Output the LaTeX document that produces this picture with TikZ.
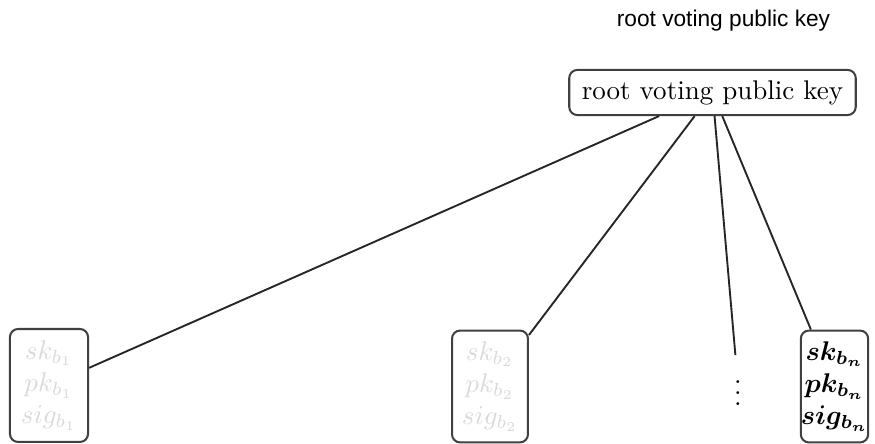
\documentclass[tikz,border=0pt]{standalone}
\usepackage{amsmath,amssymb}
\usepackage{bm}
\usepackage{fontspec}
\newfontfamily\labelfont{Liberation Sans}
\usepackage{tikz}
\usetikzlibrary{calc, positioning}
\tikzset{
	keybox/.style={draw=black!75, line width=0.75pt, rounded corners=3pt, inner sep=0pt, align=center},
	faded/.style={text=black!15},
	link/.style={draw=black!85, line width=0.7pt}
}

\begin{document}
\begin{tikzpicture}[x=0.37pt,y=-0.37pt]
		
		% Frame
		\useasboundingbox (0,0) rectangle (875,444);
		
		% Caption
		\node[anchor=base] (caption) at (723.5,27) {\labelfont\fontsize{8.4}{10}\selectfont root voting public key};
		
		% Root
		\node[keybox, minimum width=106pt, minimum height=16.7pt] (root) at (712.5,92.5) {root voting public key};
		
		% Leaves
		\node[keybox, faded, minimum width=28.9pt, minimum height=41.8pt] (b1) at (49,385.5)
		{$sk_{b_1}$\\ $pk_{b_1}$\\ $sig_{b_1}$};
		\node[keybox, faded, minimum width=28.1pt, minimum height=41.4pt] (b2) at (490,386.5)
		{$sk_{b_2}$\\ $pk_{b_2}$\\ $sig_{b_2}$};
		\node (dots) at (738,385) {$\vdots$};
		\node[keybox, minimum width=24pt, minimum height=41.4pt] (bn) at (834.5,386.5)
		{$\bm{sk_{b_n}}$\\ $\bm{pk_{b_n}}$\\ $\bm{sig_{b_n}}$};
		
		% Edges
		\foreach \leaf in {b1,b2,dots,bn}
		\draw[link] (root) -- (\leaf);
		
	\end{tikzpicture}
\end{document}
